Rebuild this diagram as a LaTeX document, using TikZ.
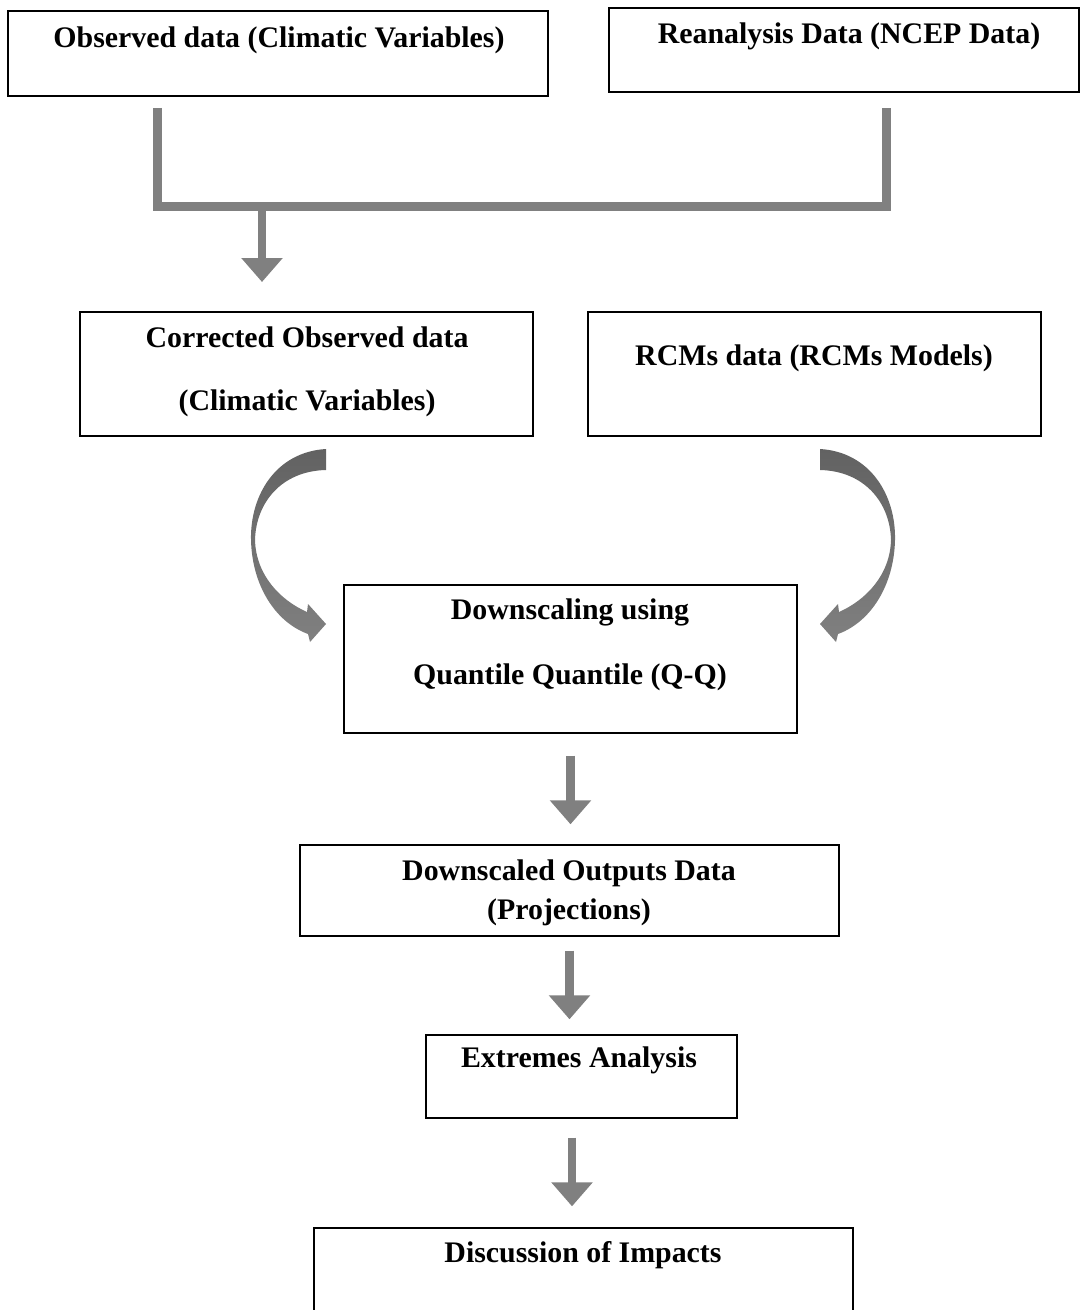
\documentclass[tikz,border=0pt]{standalone}
\usepackage{fontspec}
\setmainfont{Liberation Serif}
\usetikzlibrary{arrows.meta}
\definecolor{arrowgray}{HTML}{808080}
\definecolor{curvetop}{HTML}{626262}

\tikzset{
	box/.style={draw=black, line width=0.8pt, rectangle, inner sep=0pt},
	lbl/.style={font=\bfseries\fontsize{17}{20}\selectfont, align=center, inner sep=0pt},
	pipe/.style={draw=arrowgray, line width=0.18cm},
	flow/.style={draw=arrowgray, line width=0.17cm, -{Triangle[width=0.8cm,length=0.48cm]}}
}

\begin{document}
\begin{tikzpicture}[x=0.02cm, y=-0.02cm]
			\path[use as bounding box, clip] (0,0) rectangle (1081,1310);

			% boxes
			\node[box, minimum width=10.8cm, minimum height=1.7cm] (obsbox) at (278,53.5) {};
			\node[box, minimum width=9.4cm, minimum height=1.68cm] (reanbox) at (844,50) {};
			\node[box, minimum width=9.06cm, minimum height=2.48cm] (corrbox) at (306.5,374) {};
			\node[box, minimum width=9.06cm, minimum height=2.48cm] (rcmbox) at (814.5,374) {};
			\node[box, minimum width=9.06cm, minimum height=2.96cm] (dsbox) at (570.5,659) {};
			\node[box, minimum width=10.78cm, minimum height=1.82cm] (outbox) at (569.5,890.5) {};
			\node[box, minimum width=6.22cm, minimum height=1.66cm] (extbox) at (581.5,1076.5) {};
			\node[box, minimum width=10.78cm, minimum height=2.24cm] (discbox) at (583.5,1284) {};

			% texts
			\node[lbl] (obstext) at (279,40) {Observed data (Climatic Variables)};
			\node[lbl] (reantext) at (849,36) {Reanalysis Data (NCEP Data)};
			\node[lbl] (corrtext) at (307,372) {Corrected Observed data\\[16pt](Climatic Variables)};
			\node[lbl] (rcmtext) at (814,358) {RCMs data (RCMs Models)};
			\node[lbl] (dstext) at (570,645) {Downscaling using\\[17pt]Quantile Quantile (Q-Q)};
			\node[lbl] (outtext) at (569,893) {Downscaled Outputs Data\\[2pt](Projections)};
			\node[lbl] (exttext) at (579,1060) {Extremes Analysis};
			\node[lbl] (disctext) at (583,1255) {Discussion of Impacts};

			% merge of the two data sources
			\coordinate (obsdrop) at (157,108);
			\coordinate (reandrop) at (886,108);
			\coordinate (join) at (262,206.5);
			\draw[pipe] (obsdrop) |- (join) -| (reandrop);
			\draw[flow] (join) -- (262,282);

			% curved arrows into the downscaling box
			\foreach \s/\dx in {1/0,-1/1146}
			{
				\begin{scope}[shift={(\dx,0)}, xscale=\s]
					\shade[top color=curvetop, bottom color=arrowgray]
						(326,449) .. controls (276,452) and (250,495) .. (251,540)
						.. controls (252,585) and (275,622) .. (308,634)
						-- (310,642) -- (326,624) -- (308,604) -- (307,612)
						.. controls (280,600) and (256,575) .. (255,540)
						.. controls (256,502) and (282,471) .. (326,470) -- cycle;
				\end{scope}
			}

			\draw[flow, shorten <=0.44cm, shorten >=0.4cm] (dsbox.south) -- (dsbox.south |- outbox.north);
			\draw[flow, shorten <=0.28cm, shorten >=0.3cm] (outbox.south) -- (outbox.south |- extbox.north);
			\draw[flow, shorten <=0.38cm, shorten >=0.42cm] ([xshift=-0.19cm]extbox.south) -- ([xshift=-0.19cm]extbox.south |- discbox.north);
		\end{tikzpicture}
\end{document}
